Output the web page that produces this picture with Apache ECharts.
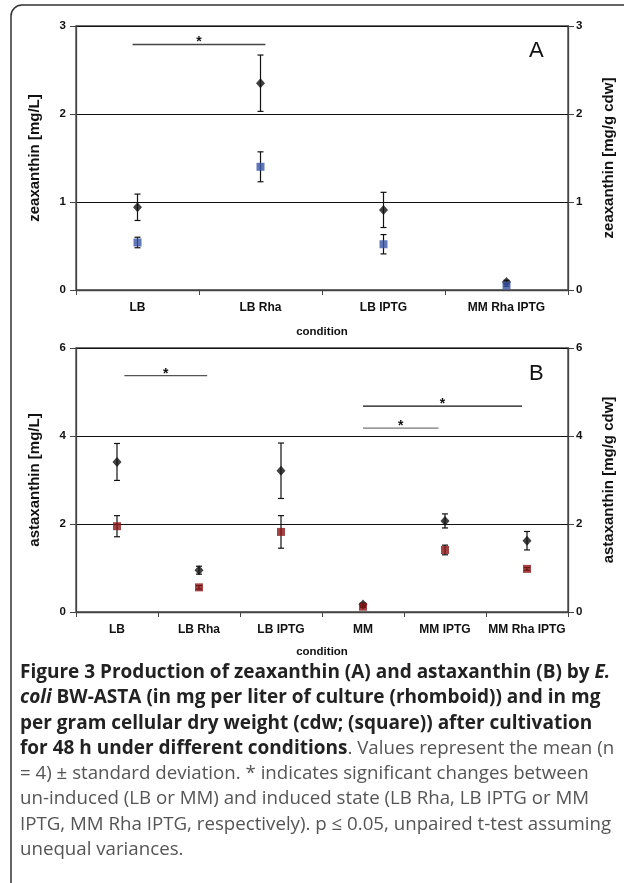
<!DOCTYPE html>
<html lang="en">
<head>
    <meta charset="UTF-8">
    <title>Figure 3</title>
    <script src="https://cdn.jsdelivr.net/npm/echarts@6/dist/echarts.min.js"></script>
    <style>
        html, body { margin: 0; padding: 0; background: #fff; }
    </style>
</head>
<body>
    <div id="main" style="width: 624px;height:883px;"></div>
    <script type="text/javascript">

        // panel A - zeaxanthin
        var catsA = ['LB', 'LB Rha', 'LB IPTG', 'MM Rha IPTG'];
        var zeaL = [0.94, 2.35, 0.91, 0.09];      // mg/L (rhomboid)
        var zeaLsd = [0.15, 0.32, 0.20, 0.02];
        var zeaG = [0.54, 1.40, 0.52, 0.05];      // mg/g cdw (square)
        var zeaGsd = [0.06, 0.17, 0.11, 0.01];
        var sigA = [[-0.04, 1.04, 2.79]];          // [from, to, y]

        // panel B - astaxanthin
        var catsB = ['LB', 'LB Rha', 'LB IPTG', 'MM', 'MM IPTG', 'MM Rha IPTG'];
        var astaL = [3.41, 0.95, 3.21, 0.17, 2.07, 1.62];
        var astaLsd = [0.42, 0.09, 0.63, 0.03, 0.16, 0.21];
        var astaG = [1.95, 0.56, 1.82, 0.12, 1.41, 0.98];
        var astaGsd = [0.24, 0.04, 0.37, 0.02, 0.11, 0.03];
        var sigB = [[0.09, 1.10, 5.37], [3.0, 4.94, 4.68], [3.0, 3.92, 4.18]];
        var sigColB = ['#555', '#111', '#777'];

        var captionLines = [
            '{b|Figure 3 Production of zeaxanthin (A) and astaxanthin (B) by }{bi|E.}',
            '{bi|coli}{b| BW-ASTA (in mg per liter of culture (rhomboid)) and in mg}',
            '{b|per gram cellular dry weight (cdw; (square)) after cultivation}',
            '{b|for 48 h under different conditions}{r|. Values represent the mean (n}',
            '{r|= 4) \u00b1 standard deviation. * indicates significant changes between}',
            '{r|un-induced (LB or MM) and induced state (LB Rha, LB IPTG or MM}',
            '{r|IPTG, MM Rha IPTG, respectively). p \u2264 0.05, unpaired t-test assuming}',
            '{r|unequal variances.}'
        ];

        function errData(m, sd) {
            return m.map(function (v, i) { return [i, v - sd[i], v + sd[i]]; });
        }

        function errItem(params, api) {
            var x = api.value(0);
            var lo = api.coord([x, api.value(1)]);
            var hi = api.coord([x, api.value(2)]);
            var st = { stroke: '#111', lineWidth: 1.2 };
            return {
                type: 'group',
                children: [
                    { type: 'line', shape: { x1: lo[0], y1: lo[1], x2: hi[0], y2: hi[1] }, style: st },
                    { type: 'line', shape: { x1: lo[0] - 3, y1: lo[1], x2: lo[0] + 3, y2: lo[1] }, style: st },
                    { type: 'line', shape: { x1: hi[0] - 3, y1: hi[1], x2: hi[0] + 3, y2: hi[1] }, style: st }
                ]
            };
        }

        function sigItem(colors) {
            return function (params, api) {
                var y = api.value(2);
                var p0 = api.coord([0, y]);
                var p1 = api.coord([1, y]);
                var step = p1[0] - p0[0];
                var xa = p0[0] + api.value(0) * step;
                var xb = p0[0] + api.value(1) * step;
                var c = colors[params.dataIndex];
                return {
                    type: 'group',
                    children: [
                        { type: 'line', shape: { x1: xa, y1: p0[1], x2: xb, y2: p0[1] }, style: { stroke: c, lineWidth: 1.3 } },
                        { type: 'text', x: (xa + xb) / 2, y: p0[1] - 9,
                          style: { text: '*', fill: '#111', align: 'center', verticalAlign: 'top',
                                   font: 'bold 14px "Liberation Sans", Arial, sans-serif' } }
                    ]
                };
            };
        }

        var tickFont = { fontFamily: '"Liberation Sans", Arial, sans-serif', fontWeight: 'bold', fontSize: 11.5, color: '#111' };
        var nameFont = { fontFamily: '"Liberation Sans", Arial, sans-serif', fontWeight: 'bold', fontSize: 15, color: '#111' };

        function yAx(gi, max, name, right) {
            return {
                type: 'value', gridIndex: gi, min: 0, max: max, interval: max / 3,
                position: right ? 'right' : 'left',
                name: name, nameLocation: 'middle', nameRotate: 90,
                nameGap: right ? 33 : 34, nameTextStyle: nameFont,
                axisLine: { show: true, lineStyle: { color: '#444', width: 1.3 } },
                axisTick: { show: true, length: 6, lineStyle: { color: '#444' } },
                axisLabel: Object.assign({ margin: right ? 8 : 10 }, tickFont),
                splitLine: { show: !right, lineStyle: { color: '#111', width: 1 } }
            };
        }

        function xAx(gi, cats) {
            return {
                type: 'category', gridIndex: gi, data: cats,
                name: 'condition', nameLocation: 'middle', nameGap: gi ? 34 : 36,
                nameTextStyle: { fontFamily: '"Liberation Sans", Arial, sans-serif', fontWeight: 'bold', fontSize: 11.5, color: '#111' },
                axisLine: { show: true, lineStyle: { color: '#444', width: 1.3 } },
                axisTick: { show: true, length: 5, lineStyle: { color: '#444' } },
                axisLabel: Object.assign({ margin: 12, interval: 0 }, tickFont, { fontSize: 12 }),
                splitLine: { show: false }
            };
        }

        var graphics = [
            { type: 'rect', shape: { x: 11, y: 5, width: 700, height: 900, r: 11 },
              style: { fill: 'none', stroke: '#333', lineWidth: 1.5 }, z: -1 },
            { type: 'text', left: 529, top: 40, style: { text: 'A', font: '22px "Liberation Sans", Arial, sans-serif', fill: '#111' } },
            { type: 'text', left: 529, top: 363, style: { text: 'B', font: '22px "Liberation Sans", Arial, sans-serif', fill: '#111' } }
        ];
        captionLines.forEach(function (t, i) {
            graphics.push({
                type: 'text', left: 20, top: 663 + i * 25.3,
                style: {
                    text: t,
                    rich: {
                        b: { font: 'bold 19px "Open Sans", sans-serif', fill: '#222' },
                        bi: { font: 'italic bold 19px "Open Sans", sans-serif', fill: '#222' },
                        r: { font: '18.7px "Open Sans", sans-serif', fill: '#555' }
                    }
                }
            });
        });

        var myChart = echarts.init(document.getElementById('main'));
        var option = {
            backgroundColor: '#fff',
            animation: false,
            grid: [
                { left: 76, top: 26, width: 495, height: 264, show: true, borderColor: '#444', borderWidth: 1.3 },
                { left: 76, top: 348, width: 495, height: 264, show: true, borderColor: '#444', borderWidth: 1.3 }
            ],
            xAxis: [xAx(0, catsA), xAx(1, catsB)],
            yAxis: [
                yAx(0, 3, 'zeaxanthin [mg/L]', false),
                yAx(0, 3, 'zeaxanthin [mg/g cdw]', true),
                yAx(1, 6, 'astaxanthin [mg/L]', false),
                yAx(1, 6, 'astaxanthin [mg/g cdw]', true)
            ],
            graphic: graphics,
            series: [
                { type: 'custom', xAxisIndex: 0, yAxisIndex: 0, renderItem: errItem, data: errData(zeaL, zeaLsd), encode: { x: 0, y: [1, 2] } },
                { type: 'custom', xAxisIndex: 0, yAxisIndex: 1, renderItem: errItem, data: errData(zeaG, zeaGsd), encode: { x: 0, y: [1, 2] } },
                { type: 'scatter', xAxisIndex: 0, yAxisIndex: 0, data: zeaL, symbol: 'diamond', symbolSize: [9, 10], itemStyle: { color: '#111' } },
                { type: 'scatter', xAxisIndex: 0, yAxisIndex: 1, data: zeaG, symbol: 'rect', symbolSize: 8, itemStyle: { color: '#3a55a6' } },
                { type: 'custom', xAxisIndex: 0, yAxisIndex: 0, renderItem: sigItem(['#444']), data: sigA, encode: { y: 2 } },

                { type: 'custom', xAxisIndex: 1, yAxisIndex: 2, renderItem: errItem, data: errData(astaL, astaLsd), encode: { x: 0, y: [1, 2] } },
                { type: 'custom', xAxisIndex: 1, yAxisIndex: 3, renderItem: errItem, data: errData(astaG, astaGsd), encode: { x: 0, y: [1, 2] } },
                { type: 'scatter', xAxisIndex: 1, yAxisIndex: 2, data: astaL, symbol: 'diamond', symbolSize: [9, 10], itemStyle: { color: '#111' } },
                { type: 'scatter', xAxisIndex: 1, yAxisIndex: 3, data: astaG, symbol: 'rect', symbolSize: 8, itemStyle: { color: '#8b1416' } },
                { type: 'custom', xAxisIndex: 1, yAxisIndex: 2, renderItem: sigItem(sigColB), data: sigB, encode: { y: 2 } }
            ]
        };
        myChart.setOption(option);

    </script>
</body>
</html>
